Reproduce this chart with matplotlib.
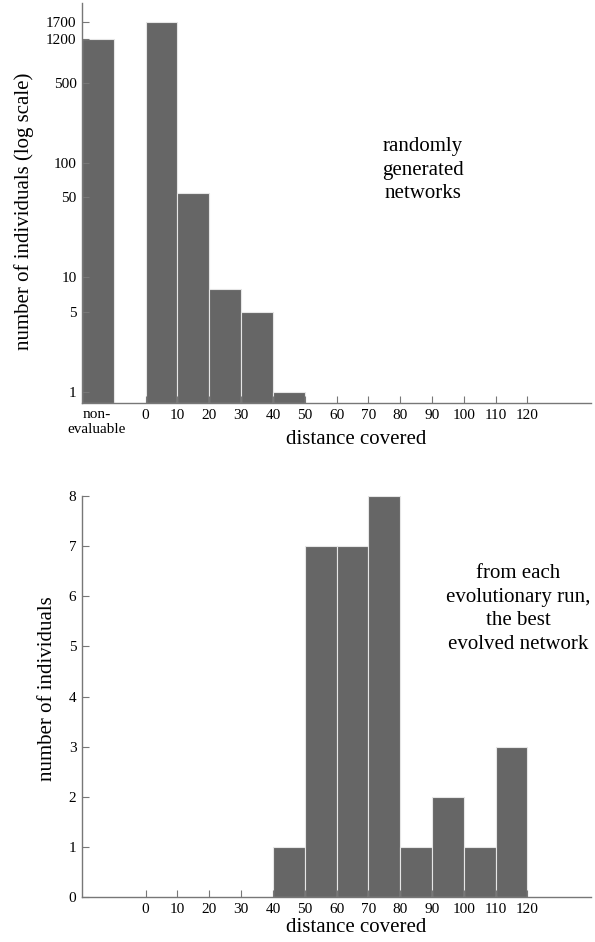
import numpy as np
import matplotlib
matplotlib.use('Agg')
import matplotlib.pyplot as plt

plt.rcParams['font.family'] = ['Liberation Serif', 'DejaVu Serif']

# --- data ---
# top: randomly generated networks (log scale); first bin is "non-evaluable"
bin_edges_top   = [0, 10, 20, 30, 40]
counts_top      = [1700, 55, 8, 5, 1]
nonevaluable    = 1200
yticks_top      = [1, 5, 10, 50, 100, 500, 1200, 1700]

# bottom: best evolved network from each evolutionary run
bin_edges_bot   = [40, 50, 60, 70, 80, 90, 100, 110]
counts_bot      = [1, 7, 7, 8, 1, 2, 1, 3]
yticks_bot      = [0, 1, 2, 3, 4, 5, 6, 7, 8]

xticks          = list(range(0, 130, 10))

W, H = 595, 942
BAR = '#666666'
EDGE = '#e6e6e6'
SPINE = '#777777'
LOG_BOTTOM = 0.8

fig = plt.figure(figsize=(W / 100, H / 100), dpi=100)

def px_axes(x0, y0, x1, y1):
    return fig.add_axes([x0 / W, 1 - y1 / H, (x1 - x0) / W, (y1 - y0) / H])

def style(ax):
    for s in ['top', 'right']:
        ax.spines[s].set_visible(False)
    for s in ['left', 'bottom']:
        ax.spines[s].set_color(SPINE)
        ax.spines[s].set_linewidth(1.0)
    ax.tick_params(direction='in', length=5, width=0.8, color=SPINE,
                   labelsize=11, pad=4)
    ax.set_xlim(-20, 140)
    ax.set_xticks(xticks)
    ax.set_xticklabels([str(t) for t in xticks])

# --- top panel ---
ax1 = px_axes(82, 3, 591, 403)
ax1.set_yscale('log')
ax1.set_ylim(LOG_BOTTOM, 2500)
ax1.bar(bin_edges_top, np.array(counts_top) - LOG_BOTTOM, width=10, align='edge',
        bottom=LOG_BOTTOM, color=BAR, edgecolor=EDGE, linewidth=0.8)
ax1.bar([-20], [nonevaluable - LOG_BOTTOM], width=10, align='edge', bottom=LOG_BOTTOM,
        color=BAR, edgecolor=EDGE, linewidth=0.8)
style(ax1)
ax1.set_yticks(yticks_top)
ax1.set_yticklabels([str(t) for t in yticks_top])
ax1.yaxis.set_minor_locator(matplotlib.ticker.NullLocator())
fig.text(97 / W, 1 - 422 / H, 'non-\nevaluable', ha='center', va='center',
         fontsize=11, linespacing=1.25)
fig.text(423 / W, 1 - 170 / H, 'randomly\ngenerated\nnetworks',
         ha='center', va='center', fontsize=15, linespacing=1.35)
fig.text(356 / W, 1 - 439 / H, 'distance covered', ha='center', va='center', fontsize=15)
fig.text(24 / W, 1 - 211 / H, 'number of individuals (log scale)', rotation=90,
         ha='center', va='center', fontsize=15)

# --- bottom panel ---
ax2 = px_axes(82, 496, 591, 897)
ax2.set_ylim(0, 8)
ax2.bar(bin_edges_bot, counts_bot, width=10, align='edge',
        color=BAR, edgecolor=EDGE, linewidth=0.8)
style(ax2)
ax2.set_yticks(yticks_bot)
fig.text(518 / W, 1 - 609 / H, 'from each\nevolutionary run,\nthe best\nevolved network',
         ha='center', va='center', fontsize=15, linespacing=1.35)
fig.text(356 / W, 1 - 928 / H, 'distance covered', ha='center', va='center', fontsize=15)
fig.text(48 / W, 1 - 689 / H, 'number of individuals', rotation=90,
         ha='center', va='center', fontsize=15)

fig.savefig('out.png', dpi=100)
